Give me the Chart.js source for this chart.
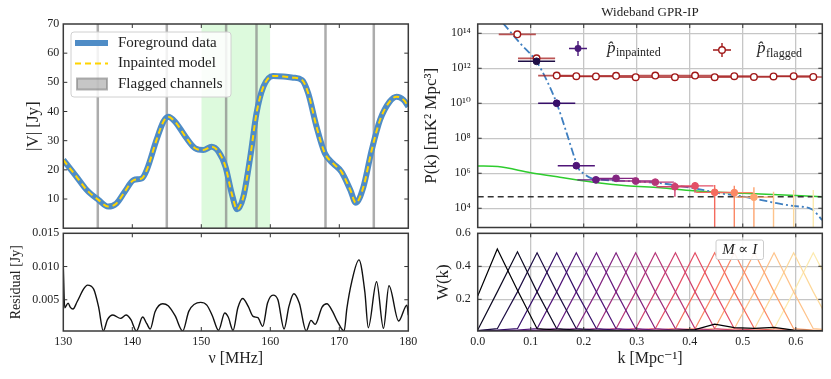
<!DOCTYPE html>
<html><head><meta charset="utf-8">
<script src="https://cdn.jsdelivr.net/npm/chart.js@4"></script>
<style>
html,body{margin:0;padding:0;background:#fff;}
#wrap{position:relative;width:831px;height:379px;overflow:hidden;background:#fff;}
canvas{position:absolute;left:0;top:0;}
</style></head><body>
<div id="wrap">
<canvas id="cTL" width="831" height="379"></canvas>
<canvas id="cBL" width="831" height="379"></canvas>
<canvas id="cTR" width="831" height="379"></canvas>
<canvas id="cBR" width="831" height="379"></canvas>
</div>
<script>
// ---------------- DATA ----------------
const freqMHz = [130,131.9,133.4,135.1,136.5,137.7,138.9,140.2,141.4,142.1,143.5,144.5,145.2,146.2,147.7,149.1,150.3,151.5,152.5,153.5,154.4,155.2,156.1,157.1,158.0,159.0,160.4,161.9,163.3,164.6,165.5,166.7,167.9,169.1,170.3,171.6,172.4,173.5,174.7,175.9,177.3,178.3,179.3,180];
const visAbsJy = [23.4,17.7,13.1,9.7,7.4,8.5,12.5,16.5,17.1,20.0,30.2,36.5,38.2,36.5,31.4,27.4,26.8,27.9,26.2,21.1,12.0,6.5,10.8,24.5,39.4,48.5,52.2,52.0,51.6,50.8,46.2,34.8,25.7,22.2,19.4,13.1,8.7,14.2,26.8,37.1,43.4,45.1,44.0,41.7];
const inpaintedModelJy = visAbsJy;
const flaggedChannels = [135, 145, 153.6, 158, 168, 175];
const inpaintBand = [150, 160];
const residFreq = [130,130.2,130.7,131.0,131.4,132.0,133.0,133.5,134.4,135.1,135.8,136.4,137.2,138.3,139.1,139.8,140.6,141.5,142.1,142.6,143.3,144.4,145.2,146.2,147.3,148.2,149.9,150.8,151.6,152.5,153.4,153.9,154.6,155.3,156.0,156.8,157.5,158.2,158.9,159.6,160.4,161.1,162.0,162.7,163.4,164.2,165.2,165.9,166.5,167.5,168.2,169.0,169.7,170.7,171.1,171.8,172.85,173.7,174.2,175.4,176.4,177.2,178.6,179.8,180];
const residJy = [0.0100,0.0038,0.0045,0.0039,0.0036,0.0047,0.0067,0.0072,0.0066,0.0040,0.0003,0.0020,0.0027,0.0022,0.0027,0.0020,0.0003,0.0024,0.0014,0.0006,0.0032,0.0044,0.0041,0.0026,0.0003,0.0033,0.0046,0.0042,0.0026,0.0004,0.0030,0.0024,0.0004,0.0038,0.0052,0.0040,0.0025,0.0023,0.0010,0.0045,0.0057,0.0050,0.0006,0.0040,0.0059,0.0045,0.0003,0.0019,0.0013,0.0039,0.0044,0.0033,0.0018,0.0003,0.0037,0.0077,0.0110,0.0062,0.0008,0.0077,0.0007,0.0071,0.0018,0.0042,0.0027];
const nuTicks = [130,140,150,160,170,180];
const visTicks = [10,20,30,40,50,60,70];
const residTicks = [0.005,0.010,0.015];

const modelK = [0.048,0.080,0.111,0.130,0.149,0.168,0.184,0.190,0.199,0.215,0.237,0.281,0.344,0.407,0.457,0.501,0.533,0.564,0.595,0.630,0.650];
const modelP = [3.7e14,2.7e13,2.4e12,2.1e11,1.0e10,1.9e8,5.8e6,1.9e6,1.0e6,5.1e5,4.2e5,3.6e5,2.7e5,1.4e5,7.2e4,4.6e4,3.0e4,1.95e4,1.35e4,8.7e3,2.1e3];
const signalK = [0,0.038,0.100,0.155,0.218,0.281,0.344,0.407,0.500,0.650];
const signalP = [2.6e6,2.4e6,1.07e6,5.9e5,3.1e5,1.95e5,1.5e5,1.0e5,7.2e4,4.6e4];
const noiseLevelP = 4.5e4;
const flaggedK = [0.0747,0.111,0.149,0.186,0.223,0.261,0.298,0.335,0.372,0.410,0.447,0.484,0.521,0.558,0.596,0.633];
const flaggedP = [8.7e13,3.7e12,3.8e11,3.55e11,3.4e11,3.7e11,3.1e11,3.8e11,3.1e11,3.8e11,3.1e11,3.55e11,3.2e11,3.4e11,3.55e11,3.2e11];
const inpaintedK = [0.111,0.149,0.186,0.223,0.261,0.298,0.335,0.372,0.410,0.447,0.484,0.521,0.558,0.596,0.633];
const inpaintedP = [2.5e12,1.0e10,2.7e6,4.2e5,5.1e5,3.6e5,3.1e5,1.7e5,1.9e5,8.1e4,7.8e4,4.3e4,null,null,null];
const inpaintedLo = [null,null,null,null,null,null,null,4.6e4,7.8e4,1e2,1e2,1e2,1e2,1e2,1e2];
const inpaintedHi = [null,null,null,null,null,null,null,3.1e5,3.2e5,2.1e5,1.95e5,1.6e5,8.9e4,1.1e5,1.1e5];
const kHalfWidth = 0.035;
const kTicks = [0,0.1,0.2,0.3,0.4,0.5,0.6];
const pkTickValues = [1e4,1e6,1e8,1e10,1e12,1e14];
const pkTickLabels = ['10⁴','10⁶','10⁸','10¹⁰','10¹²','10¹⁴'];
const wTicks = [0.2,0.4,0.6];

const kBins = [0,0.037,0.075,0.112,0.149,0.186,0.224,0.261,0.298,0.335,0.373,0.410,0.447,0.484,0.522,0.559,0.596,0.633,0.671];
const windowFunctions = [
[0.220,0.505,0.255,0.022,0.014,0.011,0.010,0.010,0.011,0.010,0.012,0.016,0.050,0.028,0.024,0.030,0.013,0.010,0.009],
[0.014,0.245,0.488,0.245,0.022,0.014,0.011,0.010,0.010,0.010,0.010,0.010,0.010,0.010,0.010,0.010,0.010,0.010,0.009],
[0.010,0.022,0.245,0.482,0.245,0.022,0.014,0.011,0.010,0.010,0.010,0.010,0.010,0.010,0.010,0.010,0.010,0.010,0.009],
[0.010,0.014,0.022,0.245,0.482,0.245,0.022,0.014,0.011,0.010,0.010,0.010,0.010,0.010,0.010,0.010,0.010,0.010,0.009],
[0.010,0.011,0.014,0.022,0.245,0.482,0.245,0.022,0.014,0.011,0.010,0.010,0.010,0.010,0.010,0.010,0.010,0.010,0.009],
[0.009,0.010,0.011,0.014,0.022,0.245,0.482,0.245,0.022,0.014,0.011,0.010,0.010,0.010,0.010,0.010,0.010,0.010,0.009],
[0.009,0.010,0.010,0.011,0.014,0.022,0.245,0.482,0.245,0.022,0.014,0.011,0.010,0.010,0.010,0.010,0.010,0.010,0.009],
[0.009,0.010,0.010,0.010,0.011,0.014,0.022,0.245,0.482,0.245,0.022,0.014,0.011,0.010,0.010,0.010,0.010,0.010,0.009],
[0.009,0.010,0.010,0.010,0.010,0.011,0.014,0.022,0.245,0.482,0.245,0.022,0.014,0.011,0.010,0.010,0.010,0.010,0.009],
[0.009,0.010,0.010,0.010,0.010,0.010,0.011,0.014,0.022,0.245,0.482,0.245,0.022,0.014,0.011,0.010,0.010,0.010,0.009],
[0.009,0.010,0.010,0.010,0.010,0.010,0.010,0.011,0.014,0.022,0.245,0.482,0.245,0.022,0.014,0.011,0.010,0.010,0.009],
[0.009,0.010,0.010,0.010,0.010,0.010,0.010,0.010,0.011,0.014,0.022,0.245,0.482,0.245,0.022,0.014,0.011,0.010,0.009],
[0.009,0.010,0.010,0.010,0.010,0.010,0.010,0.010,0.010,0.011,0.014,0.022,0.245,0.482,0.245,0.022,0.014,0.011,0.010],
[0.009,0.010,0.010,0.010,0.010,0.010,0.010,0.010,0.010,0.010,0.011,0.014,0.022,0.245,0.482,0.245,0.022,0.014,0.011],
[0.009,0.010,0.010,0.010,0.010,0.010,0.010,0.010,0.010,0.010,0.010,0.011,0.014,0.022,0.245,0.482,0.245,0.022,0.014],
[0.009,0.010,0.010,0.010,0.010,0.010,0.010,0.010,0.010,0.010,0.010,0.010,0.011,0.014,0.022,0.245,0.482,0.245,0.022],
[0.009,0.010,0.010,0.010,0.010,0.010,0.010,0.010,0.010,0.010,0.010,0.010,0.010,0.011,0.014,0.022,0.245,0.482,0.245]
];
const magma = ['#000004','#0c0922','#1e0e45','#360f69','#501578','#691c80','#822581','#9c2e7e','#b73779','#cf426f','#e44f66','#f46a5d','#fb8865','#fea570','#fec38b','#fdd89a','#fce9ad'];
const tlLegendLabels = ['Foreground data','Inpainted model','Flagged channels'];

// ---------------- STYLE / HELPERS ----------------
const W = 831, H = 379;
const SERIF = "'Liberation Serif','DejaVu Serif',serif";
Chart.defaults.font.family = SERIF;
Chart.defaults.font.size = 12;
Chart.defaults.color = '#222';
const FG = '#4f8cc6', GOLD = '#ffd400', FLAG = '#a01818';

const setTicks = vals => s => { s.ticks = vals.map(v => ({value: v})); };
const fixW = w => s => { s.width = w; };
const fixH = h => s => { s.height = h; };

const frameTicks = {
  id: 'frameTicks',
  afterDraw(chart) {
    const {ctx, chartArea: a, scales: {x, y}} = chart;
    ctx.save();
    ctx.strokeStyle = '#333'; ctx.lineWidth = 1;
    ctx.beginPath();
    for (const t of x.ticks) {
      const p = x.getPixelForValue(t.value);
      if (p < a.left + 1 || p > a.right - 1) continue;
      ctx.moveTo(p, a.bottom); ctx.lineTo(p, a.bottom - 4);
      ctx.moveTo(p, a.top); ctx.lineTo(p, a.top + 4);
    }
    for (const t of y.ticks) {
      const p = y.getPixelForValue(t.value);
      if (p < a.top + 1 || p > a.bottom - 1) continue;
      ctx.moveTo(a.left, p); ctx.lineTo(a.left + 4, p);
      ctx.moveTo(a.right, p); ctx.lineTo(a.right - 4, p);
    }
    ctx.stroke();
    ctx.lineWidth = 1.5; ctx.strokeStyle = '#3a3a3a';
    ctx.strokeRect(a.left, a.top, a.right - a.left, a.bottom - a.top);
    ctx.restore();
  }
};

function baseOptions(area, scales) {
  return {
    responsive: false, animation: false, devicePixelRatio: 1, events: [],
    layout: {padding: {left: area.canvasLeft, top: area.top, right: W - area.right, bottom: H - area.axisBottom}},
    elements: {point: {radius: 0}, line: {tension: 0}},
    plugins: {legend: {display: false}, tooltip: {enabled: false}},
    scales
  };
}
function seg(x1, y1, x2, y2, color, width, order) {
  return {data: [{x: x1, y: y1}, {x: x2, y: y2}], borderColor: color, borderWidth: width, pointRadius: 0, order, fill: false};
}
const noGrid = {display: false, drawTicks: false};

// ---------------- TOP LEFT ----------------
const tlArea = {canvasLeft: 0, left: 63.3, top: 24, right: 408.3, bottom: 228.2, axisBottom: 228.2};
const tlDatasets = [];
tlDatasets.push({data: [{x: inpaintBand[0], y: 70}, {x: inpaintBand[1], y: 70}], borderWidth: 0, backgroundColor: 'rgba(144,238,144,0.3)', fill: 'origin', pointRadius: 0, order: 20});
flaggedChannels.forEach(f => tlDatasets.push(seg(f, 0, f, 70, 'rgba(128,128,128,0.65)', 2.5, 15)));
tlDatasets.push({data: freqMHz.map((f, i) => ({x: f, y: visAbsJy[i]})), borderColor: FG, borderWidth: 6, cubicInterpolationMode: 'monotone', pointRadius: 0, order: 2, fill: false});
tlDatasets.push({data: freqMHz.map((f, i) => ({x: f, y: inpaintedModelJy[i]})), borderColor: GOLD, borderWidth: 2, borderDash: [6, 4], cubicInterpolationMode: 'monotone', pointRadius: 0, order: 1, fill: false});

const tlLegend = {
  id: 'tlLegend',
  afterDraw(chart) {
    const ctx = chart.ctx;
    ctx.save();
    ctx.beginPath();
    ctx.roundRect(71, 32, 160, 65, 3);
    ctx.fillStyle = 'rgba(255,255,255,0.85)'; ctx.fill();
    ctx.strokeStyle = '#d0d0d0'; ctx.lineWidth = 1; ctx.stroke();
    const ys = [43, 63.5, 84];
    ctx.strokeStyle = FG; ctx.lineWidth = 6;
    ctx.beginPath(); ctx.moveTo(75, ys[0]); ctx.lineTo(108, ys[0]); ctx.stroke();
    ctx.strokeStyle = GOLD; ctx.lineWidth = 2; ctx.setLineDash([6, 4]);
    ctx.beginPath(); ctx.moveTo(75, ys[1]); ctx.lineTo(108, ys[1]); ctx.stroke();
    ctx.setLineDash([]);
    ctx.fillStyle = 'rgba(128,128,128,0.45)'; ctx.fillRect(77, 78.5, 30, 11);
    ctx.strokeStyle = 'rgba(128,128,128,0.6)'; ctx.strokeRect(77, 78.5, 30, 11);
    ctx.fillStyle = '#222'; ctx.font = '15px ' + SERIF; ctx.textBaseline = 'middle'; ctx.textAlign = 'left';
    tlLegendLabels.forEach((t, i) => ctx.fillText(t, 118, ys[i]));
    ctx.restore();
  }
};

new Chart(document.getElementById('cTL'), {
  type: 'line',
  data: {datasets: tlDatasets},
  options: baseOptions(tlArea, {
    x: {type: 'linear', min: 130, max: 180, afterBuildTicks: setTicks(nuTicks), ticks: {display: false}, grid: noGrid, border: {display: false}, afterFit: fixH(0)},
    y: {type: 'linear', min: 0, max: 70, afterBuildTicks: setTicks(visTicks), ticks: {padding: 4, callback: v => String(v)}, grid: noGrid, border: {display: false},
        title: {display: true, text: '|V| [Jy]', font: {size: 17}, padding: {top: 23, bottom: 0}}, afterFit: fixW(63.3)}
  }),
  plugins: [frameTicks, tlLegend]
});

// ---------------- BOTTOM LEFT ----------------
const blArea = {canvasLeft: 0, left: 63.3, top: 233.3, right: 408.3, bottom: 331, axisBottom: 379};
new Chart(document.getElementById('cBL'), {
  type: 'line',
  data: {datasets: [{data: residFreq.map((f, i) => ({x: f, y: residJy[i]})), borderColor: '#111', borderWidth: 1.4, cubicInterpolationMode: 'monotone', pointRadius: 0, fill: false}]},
  options: baseOptions(blArea, {
    x: {type: 'linear', min: 130, max: 180, afterBuildTicks: setTicks(nuTicks), ticks: {padding: 4, callback: v => String(v)}, grid: noGrid, border: {display: false},
        title: {display: true, text: 'ν [MHz]', font: {size: 16}, padding: {top: 0, bottom: 11}}, afterFit: fixH(48)},
    y: {type: 'linear', min: 0.0003, max: 0.015, afterBuildTicks: setTicks(residTicks), ticks: {padding: 4, callback: v => v.toFixed(3)}, grid: noGrid, border: {display: false},
        title: {display: true, text: 'Residual [Jy]', font: {size: 14}, padding: {top: 7.5, bottom: 0}}, afterFit: fixW(63.3)}
  }),
  plugins: [frameTicks]
});

// ---------------- TOP RIGHT ----------------
const trArea = {canvasLeft: 410, left: 477.7, top: 24, right: 822.3, bottom: 227.5, axisBottom: 227.5};
const trDatasets = [];
trDatasets.push({data: signalK.map((k, i) => ({x: k, y: signalP[i]})), borderColor: '#2ecc2e', borderWidth: 1.5, cubicInterpolationMode: 'monotone', pointRadius: 0, order: 30, fill: false});
trDatasets.push(seg(0, noiseLevelP, 0.65, noiseLevelP, '#333', 1.5, 29));
trDatasets[1].borderDash = [6, 4];
trDatasets.push({data: modelK.map((k, i) => ({x: k, y: modelP[i]})), borderColor: '#3f7fc0', borderWidth: 1.8, borderDash: [8, 3, 2, 3], cubicInterpolationMode: 'monotone', pointRadius: 0, order: 28, fill: false});
flaggedK.forEach((k, i) => trDatasets.push(seg(k - kHalfWidth, flaggedP[i], k + kHalfWidth, flaggedP[i], 'rgba(165,28,28,0.75)', 1.6, 20)));
inpaintedK.forEach((k, i) => {
  const c = magma[i + 2];
  if (inpaintedP[i] !== null) trDatasets.push(seg(k - kHalfWidth, inpaintedP[i], k + kHalfWidth, inpaintedP[i], c, 1.4, 18));
  if (inpaintedLo[i] !== null) trDatasets.push(seg(k, inpaintedLo[i], k, inpaintedHi[i], c, 1.4, 18));
});
trDatasets.push({data: flaggedK.map((k, i) => ({x: k, y: flaggedP[i]})), showLine: false, pointRadius: 3.3, pointBackgroundColor: '#fff', pointBorderColor: FLAG, pointBorderWidth: 1.4, order: 3});
trDatasets.push({data: inpaintedK.map((k, i) => ({x: k, y: inpaintedP[i]})), showLine: false, pointRadius: 3.4, pointBackgroundColor: inpaintedK.map((k, i) => magma[i + 2]), pointBorderColor: inpaintedK.map((k, i) => magma[i + 2]), pointBorderWidth: 1, order: 2});

const trDecor = {
  id: 'trDecor',
  afterDraw(chart) {
    const ctx = chart.ctx;
    ctx.save();
    ctx.fillStyle = '#222'; ctx.font = '13px ' + SERIF; ctx.textAlign = 'center'; ctx.textBaseline = 'middle';
    ctx.fillText('Wideband GPR-IP', 650, 13);
    // legend: inpainted
    const pc = '#4a1a7a';
    ctx.strokeStyle = pc; ctx.lineWidth = 1.4;
    ctx.beginPath(); ctx.moveTo(569, 48.5); ctx.lineTo(587, 48.5); ctx.moveTo(578, 41); ctx.lineTo(578, 56); ctx.stroke();
    ctx.fillStyle = pc; ctx.beginPath(); ctx.arc(578, 48.5, 3.4, 0, Math.PI * 2); ctx.fill();
    // legend: flagged
    ctx.strokeStyle = FLAG;
    ctx.beginPath(); ctx.moveTo(713, 50); ctx.lineTo(731, 50); ctx.moveTo(722, 43); ctx.lineTo(722, 57); ctx.stroke();
    ctx.fillStyle = '#fff'; ctx.beginPath(); ctx.arc(722, 50, 3.3, 0, Math.PI * 2); ctx.fill(); ctx.stroke();
    ctx.fillStyle = '#222'; ctx.textAlign = 'left'; ctx.textBaseline = 'alphabetic';
    const drawSub = (x, y, main, sub) => {
      ctx.font = 'italic 17px ' + SERIF; ctx.fillText(main, x, y);
      const w = ctx.measureText(main).width;
      ctx.font = '12px ' + SERIF; ctx.fillText(sub, x + w + 0.5, y + 3.5);
    };
    drawSub(607, 52.5, 'p\u0302', 'inpainted');
    drawSub(757, 53, 'p\u0302', 'flagged');
    ctx.restore();
  }
};

new Chart(document.getElementById('cTR'), {
  type: 'line',
  data: {datasets: trDatasets},
  options: baseOptions(trArea, {
    x: {type: 'linear', min: 0, max: 0.65, afterBuildTicks: setTicks(kTicks), ticks: {display: false}, grid: {color: '#c6c6c6', lineWidth: 1.3, drawTicks: false}, border: {display: false}, afterFit: fixH(0)},
    y: {type: 'logarithmic', min: Math.pow(10, 2.9), max: Math.pow(10, 14.53), afterBuildTicks: setTicks(pkTickValues),
        ticks: {padding: 7, callback: v => pkTickLabels[Math.round(Math.log10(v) / 2) - 2]},
        grid: {color: '#c6c6c6', lineWidth: 1.3, drawTicks: false}, border: {display: false},
        title: {display: true, text: 'P(k) [mK² Mpc³]', font: {size: 17}, padding: {top: 11, bottom: 0}}, afterFit: fixW(67.7)}
  }),
  plugins: [frameTicks, trDecor]
});

// ---------------- BOTTOM RIGHT ----------------
const brArea = {canvasLeft: 410, left: 477.7, top: 233.3, right: 822.3, bottom: 331, axisBottom: 379};
const brDatasets = windowFunctions.map((row, i) => ({
  data: kBins.map((k, j) => ({x: k, y: row[j]})), borderColor: magma[i], borderWidth: 1.2, pointRadius: 0, fill: false, order: i
}));
const brDecor = {
  id: 'brDecor',
  afterDraw(chart) {
    const ctx = chart.ctx;
    ctx.save();
    ctx.beginPath(); ctx.roundRect(716, 240, 47.5, 19.5, 2);
    ctx.fillStyle = 'rgba(255,255,255,0.9)'; ctx.fill();
    ctx.strokeStyle = '#cccccc'; ctx.lineWidth = 1; ctx.stroke();
    ctx.fillStyle = '#222'; ctx.font = 'italic 15px ' + SERIF; ctx.textAlign = 'center'; ctx.textBaseline = 'middle';
    ctx.fillText('M ∝ I', 739.7, 250.5);
    ctx.restore();
  }
};
new Chart(document.getElementById('cBR'), {
  type: 'line',
  data: {datasets: brDatasets},
  options: baseOptions(brArea, {
    x: {type: 'linear', min: 0, max: 0.65, afterBuildTicks: setTicks(kTicks), ticks: {padding: 4, callback: v => v.toFixed(1)}, grid: {color: '#c6c6c6', lineWidth: 1.3, drawTicks: false}, border: {display: false},
        title: {display: true, text: 'k [Mpc⁻¹]', font: {size: 16}, padding: {top: 0, bottom: 11}}, afterFit: fixH(48)},
    y: {type: 'linear', min: 0.008, max: 0.6, afterBuildTicks: setTicks(wTicks), ticks: {padding: 7, callback: v => v.toFixed(1)}, grid: {color: '#c6c6c6', lineWidth: 1.3, drawTicks: false}, border: {display: false},
        title: {display: true, text: 'W(k)', font: {size: 17}, padding: {top: 23, bottom: 0}}, afterFit: fixW(67.7)}
  }),
  plugins: [frameTicks, brDecor]
});
</script>
</body></html>
